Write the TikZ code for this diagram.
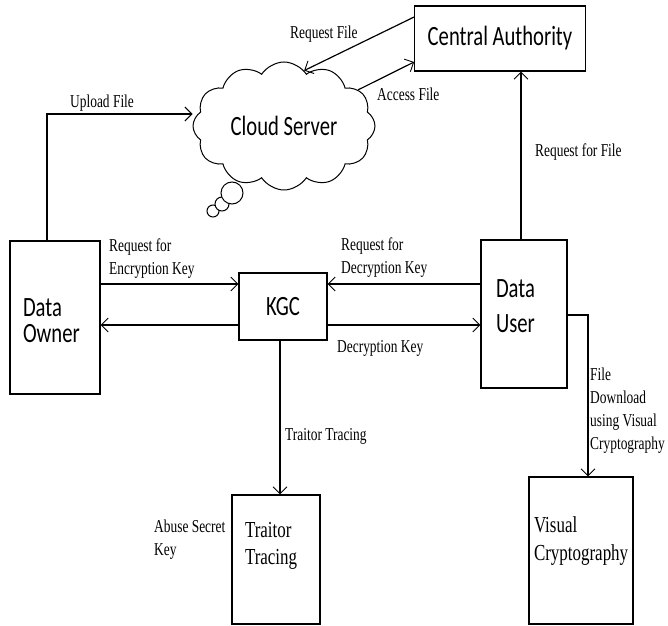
\documentclass[tikz,border=0pt]{standalone}
\usepackage{fontspec}
\setmainfont{Liberation Serif}[FakeStretch=0.74]
\newfontfamily\boxfont{Carlito}[FakeStretch=0.74]
\usetikzlibrary{arrows.meta,calc,positioning,shapes.symbols}
\tikzset{
myblock/.style={
  rectangle,
  line width=1.2bp,
  draw=black,
  inner xsep=13bp,
  inner ysep=0pt,
  align=left,
  font=\boxfont\fontsize{28}{26}\selectfont,
  }
}
\tikzset{
mylabel/.style={
  inner sep=0pt,
  align=left,
  anchor=north west,
  font=\fontsize{18.2}{23}\selectfont,
  }
}
\tikzset{
myline/.style={
  line width=1.2bp,
  -{Straight Barb[length=7bp,width=14bp,line width=0.9bp]}
  }
}
\tikzset{
bubble/.style={
  circle,
  line width=1bp,
  draw=black,
  fill=white,
  inner sep=0pt,
  }
}

\begin{document}
\begin{tikzpicture}[x=1bp,y=-1bp]
    \useasboundingbox (0,0) rectangle (668,626);

    % cloud part
    \node[bubble, minimum size=12bp] (bubc) at (213,211) {};
    \node[bubble, minimum size=14bp] (bubb) at (222,204) {};
    \node[bubble, minimum size=22bp] (buba) at (232,193) {};
    \node[cloud, draw, line width=1bp, fill=white, cloud puffs=12, cloud puff arc=115,
          aspect=1.4, inner sep=0pt, minimum width=182bp, minimum height=128bp,
          font=\boxfont\fontsize{28}{30}\selectfont] (cloud) at (284,126) {Cloud Server};
    \node[myblock, minimum width=166bp, minimum height=65bp] (ca) at (500,38.5) {Central Authority};

    % key part
    \node[myblock, text width=64bp, minimum width=90bp, minimum height=153bp, text height=25bp] (do) at (55,317.5) {Data\\Owner};
    \node[myblock, minimum width=88bp, minimum height=67bp] (kgc) at (283,306.5) {KGC};
    \node[myblock, inner xsep=15bp, text width=56bp, minimum width=86bp, minimum height=148bp, text depth=50bp] (du) at (524,314) {Data\\[9bp]User};
    \coordinate (upr) at (0,284);
    \coordinate (lwr) at (0,325);

    % lower part
    \node[myblock, font=\fontsize{23}{27}\selectfont, text width=62bp, minimum width=88bp, minimum height=129bp, text depth=58.7bp] (tt) at (276,559.5) {Traitor\\Tracing};
    \node[myblock, font=\fontsize{23}{28}\selectfont, inner xsep=5bp, text width=94bp, minimum width=104bp, minimum height=147bp, text depth=52.7bp] (vc) at (581,550.5) {Visual\\Cryptography};

    % cloud edges
    \draw[myline] ([xshift=-8bp]do.north) |- ([yshift=12bp]cloud.west);
    \draw[myline] ([yshift=21.5bp]ca.west) -- (cloud.70);
    \draw[myline] (cloud.26) -- ([yshift=-23.5bp]ca.west);
    \draw[myline] ([xshift=-3bp]du.north) -- ([xshift=-3bp]du.north |- ca.south);

    % key edges
    \draw[myline] (do.east |- upr) -- (kgc.west |- upr);
    \draw[myline] (kgc.west |- lwr) -- (do.east |- lwr);
    \draw[myline] (du.west |- upr) -- (kgc.east |- upr);
    \draw[myline] (kgc.east |- lwr) -- (du.west |- lwr);

    % lower edges
    \draw[myline] ([xshift=-3bp]kgc.south) -- ([xshift=-3bp]kgc.south |- tt.north);
    \draw[myline] ([yshift=-1bp]du.east) -| ([xshift=7bp]vc.north);

    % labels
    \node[mylabel] (lupl) at (70,94.7) {Upload File};
    \node[mylabel] (lreq) at (290,25.7) {Request File};
    \node[mylabel] (lacc) at (377,87.7) {Access File};
    \node[mylabel] (lrff) at (535,143.7) {Request for File};
    \node[mylabel] (lenc) at (109,238.7) {Request for\\Encryption Key};
    \node[mylabel] (lrdk) at (341,237.7) {Request for\\Decryption Key};
    \node[mylabel] (ldec) at (337,340.7) {Decryption Key};
    \node[mylabel] (ltrt) at (285,428.7) {Traitor Tracing};
    \node[mylabel] (labu) at (154,519.7) {Abuse Secret\\Key};
    \node[mylabel] (lfdl) at (590,367.7) {File\\Download\\using Visual\\Cryptography};
\end{tikzpicture}
\end{document}
